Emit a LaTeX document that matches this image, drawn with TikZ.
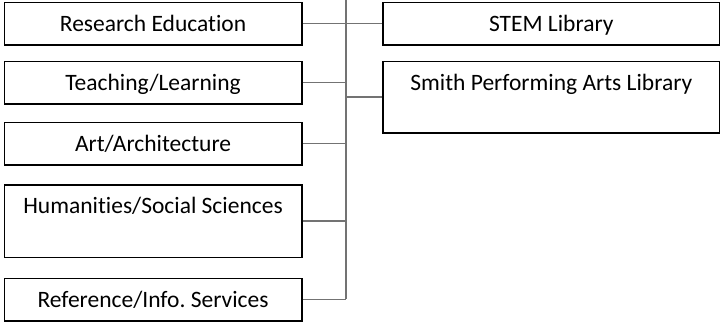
\documentclass[tikz,border=0pt]{standalone}
\usepackage{fontspec}
\setmainfont{Carlito}[Ligatures=NoCommon]
\frenchspacing
\begin{document}
\begin{tikzpicture}[x=1pt,y=-1pt,
  box/.style={draw=black, line width=1.6pt, inner sep=0pt, anchor=north west,
    font=\fontsize{23.5}{28}\selectfont, text height=29pt},
  lbox/.style={box, minimum width=297.5pt},
  rbox/.style={box, minimum width=337pt},
  short/.style={text depth=13.5pt},
  tall/.style={text depth=43.5pt},
  link/.style={draw=black!55, line width=1.6pt}]
\useasboundingbox (0,0) rectangle (720,322);
% left column
\node[lbox, short] (re) at (3.5,1.5) {Research Education};
\node[lbox, short] (tl) at (3.5,60.5) {Teaching/Learning};
\node[lbox, short] (aa) at (3.5,121.5) {Art/Architecture};
\node[lbox, tall]  (hs) at (3.5,184) {Humanities/Social Sciences};
\node[lbox, short] (rs) at (3.5,277.5) {Reference/Info.\ Services};
% right column
\node[rbox, short] (stem) at (382,1.5) {STEM Library};
\node[rbox] (smith) at (382,60.5) [text depth=42.5pt] {Smith Performing Arts Library};
% trunk
\coordinate (top) at (346,0);
\coordinate (bot) at (346,299);
\draw[link] (top) -- (bot);
\draw[link] (re.east) -- (stem.west);
\draw[link] (tl.east) -- (tl.east -| top);
\draw[link] (aa.east) -- (aa.east -| top);
\draw[link] (hs.east) -- (hs.east -| top);
\draw[link] (rs.east) -- (rs.east -| top);
\draw[link] (smith.west) -- (smith.west -| top);
\end{tikzpicture}
\end{document}
